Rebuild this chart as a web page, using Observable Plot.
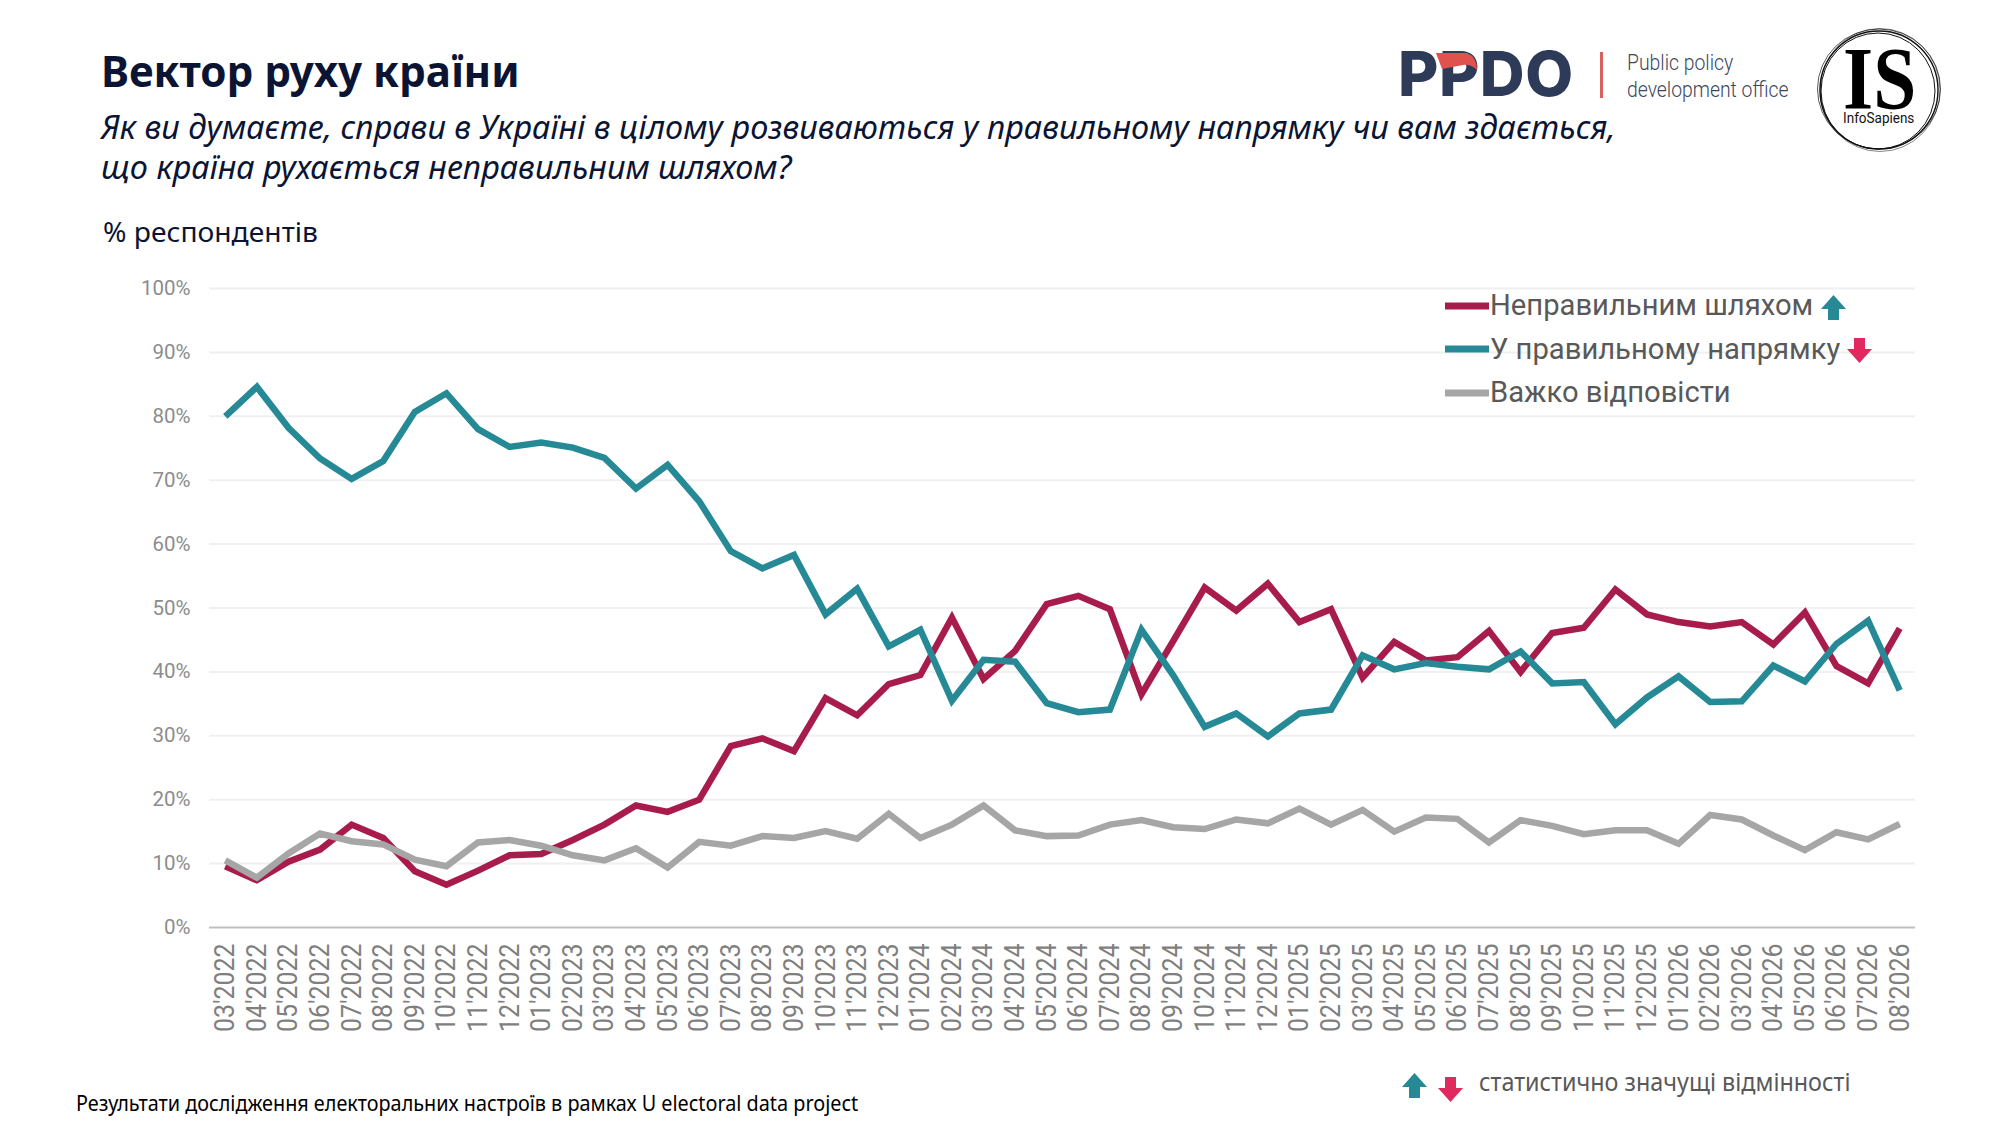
<!DOCTYPE html>
<html lang="uk">
<head>
<meta charset="utf-8">
<script src="https://cdn.jsdelivr.net/npm/d3@7"></script>
<script src="https://cdn.jsdelivr.net/npm/@observablehq/plot@0.6"></script>
<style>
  html,body{margin:0;padding:0;background:#fff;width:2000px;height:1125px;overflow:hidden}
  #page{position:relative;width:2000px;height:1125px}
  .t{position:absolute;white-space:nowrap;line-height:1}
  #chart{position:absolute;left:0;top:0}
  #chart svg{display:block;background:transparent}
  .s{position:absolute;overflow:visible}
</style>
</head>
<body>
<div id="page"><div id="chart"></div></div>
<script>
const months = [
"03'2022","04'2022","05'2022","06'2022","07'2022","08'2022","09'2022","10'2022","11'2022","12'2022",
"01'2023","02'2023","03'2023","04'2023","05'2023","06'2023","07'2023","08'2023","09'2023","10'2023","11'2023","12'2023",
"01'2024","02'2024","03'2024","04'2024","05'2024","06'2024","07'2024","08'2024","09'2024","10'2024","11'2024","12'2024",
"01'2025","02'2025","03'2025","04'2025","05'2025","06'2025","07'2025","08'2025","09'2025","10'2025","11'2025","12'2025",
"01'2026","02'2026","03'2026","04'2026","05'2026","06'2026","07'2026","08'2026"];
const wrongWay = [9.6,7.4,10.3,12.2,16.1,14.0,8.8,6.7,8.9,11.3,11.5,13.7,16.1,19.1,18.1,20.0,28.4,29.6,27.6,35.9,33.2,38.1,39.5,48.5,38.9,43.3,50.6,51.9,49.8,36.5,44.8,53.2,49.6,53.8,47.8,49.8,39.1,44.7,41.8,42.3,46.4,40.0,46.1,46.9,52.9,49.0,47.8,47.1,47.8,44.3,49.3,40.9,38.2,46.8];
const rightWay = [80.0,84.6,78.2,73.4,70.2,73.0,80.7,83.6,78.0,75.2,75.9,75.1,73.5,68.7,72.4,66.7,58.9,56.2,58.3,49.0,53.0,44.0,46.6,35.5,41.9,41.6,35.1,33.7,34.1,46.6,39.5,31.4,33.5,29.9,33.5,34.1,42.6,40.4,41.4,40.8,40.4,43.2,38.2,38.4,31.8,36.0,39.3,35.3,35.4,41.0,38.5,44.4,48.0,37.1];
const hardToSay = [10.5,7.8,11.6,14.7,13.5,13.0,10.6,9.6,13.3,13.7,12.8,11.3,10.5,12.4,9.4,13.4,12.8,14.3,14.0,15.1,13.9,17.8,14.0,16.1,19.1,15.2,14.3,14.4,16.1,16.8,15.7,15.4,16.9,16.3,18.6,16.1,18.4,15.0,17.2,17.0,13.3,16.8,15.9,14.6,15.2,15.2,13.1,17.6,16.9,14.4,12.1,14.9,13.8,16.2];
const yTicks = [0,10,20,30,40,50,60,70,80,90,100];
const gridTicks = [10,20,30,40,50,60,70,80,90,100];
const legendLabels = ["Неправильним шляхом","У правильному напрямку","Важко відповісти"];
const titleText = "Вектор руху країни";
const subtitleLines = ["Як ви думаєте, справи в Україні в цілому розвиваються у правильному напрямку чи вам здається,","що країна рухається неправильним шляхом?"];
const unitText = "% респондентів";
const sourceText = "Результати дослідження електоральних настроїв в рамках U electoral data project";
const noteText = "статистично значущі відмінності";

const RED="#A81C4C", TEAL="#268A96", GREY="#A6A6A6", PINK="#E0295F", INK="#0B1533";
const lineOpts = {x:(d,i)=>d, strokeWidth:6.5, strokeLinejoin:"miter", strokeLinecap:"butt", strokeMiterlimit:10};

const plot = Plot.plot({
  width:2000, height:1125,
  marginLeft:209, marginRight:85, marginTop:288, marginBottom:198,
  style:{fontFamily:"Roboto, sans-serif", background:"transparent", overflow:"visible"},
  x:{type:"point", domain:months, padding:0.5, label:null},
  y:{domain:[0,100], label:null},
  marks:[
    Plot.ruleY(gridTicks,{stroke:"#F0F0F0", strokeWidth:2}),
    Plot.ruleY([0],{stroke:"#BFBFBF", strokeWidth:2}),
    Plot.axisY({ticks:yTicks, tickSize:0, tickPadding:19, tickFormat:d=>d+"%", fontSize:20.5, color:"#8C8C8C", label:null}),
    Plot.axisX({tickSize:0, tickPadding:16, tickRotate:-90, fontSize:28, color:"#7F7F7F", label:null, className:"xt"}),
    Plot.line(months,{...lineOpts, y:(d,i)=>wrongWay[i], stroke:RED}),
    Plot.line(months,{...lineOpts, y:(d,i)=>rightWay[i], stroke:TEAL}),
    Plot.line(months,{...lineOpts, y:(d,i)=>hardToSay[i], stroke:GREY})
  ]
});
document.getElementById("chart").appendChild(plot);
// the reference's month labels are tall and compressed along their length
plot.querySelectorAll("text").forEach(t=>{
  if(months.includes(t.textContent.trim()) && t.getAttribute("transform"))
    t.setAttribute("transform",t.getAttribute("transform")+" scale(.89,1)");
});

const page = document.getElementById("page");
function text(s,left,cy,size,css){
  const e=document.createElement("div");e.className="t";e.textContent=s;
  e.style.cssText=`left:${left}px;top:${cy-size/2}px;font-size:${size}px;${css||""}`;
  page.appendChild(e);return e;
}
function svg(left,top,w,h,inner){
  const d=document.createElement("div");
  d.innerHTML=`<svg class="s" xmlns="http://www.w3.org/2000/svg" style="left:${left}px;top:${top}px" width="${w}" height="${h}" viewBox="0 0 ${w} ${h}">${inner}</svg>`;
  page.appendChild(d.firstChild);
}
const UP='M12.5 0 L25 14 L18 14 L18 25 L7 25 L7 14 L0 14 Z';
const DOWN='M12.5 25 L25 11 L18 11 L18 0 L7 0 L7 11 L0 11 Z';
function up(x,y){svg(x,y,25,25,`<path d="${UP}" fill="${TEAL}"/>`)}
function down(x,y){svg(x,y,25,25,`<path d="${DOWN}" fill="${PINK}"/>`)}

const head='"Noto Sans",sans-serif';
const sq=k=>`transform-origin:left center;transform:scaleX(${k});`;
text(titleText,100.5,70,43,`font-family:${head};font-weight:700;color:${INK};${sq(.98)}`);
text(subtitleLines[0],100.5,126.5,33,`font-family:${head};font-style:italic;color:${INK};${sq(.983)}`);
text(subtitleLines[1],100.5,166.5,33,`font-family:${head};font-style:italic;color:${INK};${sq(.983)}`);
text(unitText,103,231,28,`font-family:${head};color:${INK};${sq(1.008)}`);
text(sourceText,76,1102,22,`font-family:${head};color:#000;${sq(.9)}`);
text(noteText,1479,1081,25,`font-family:${head};color:#595959;${sq(.935)}`);

// legend
[[RED,306,306],[TEAL,349,350],[GREY,393,393]].forEach(([c,y,ty],i)=>{
  svg(1445,y-4,44,8,`<rect x="0" y=".5" width="44" height="7" fill="${c}"/>`);
  text(legendLabels[i],1490,ty-0.5,29.2,`font-family:Roboto,sans-serif;color:#595959`);
});
up(1821,295); down(1847,338);
up(1402,1073); down(1438,1077);

// logos
text("PPDO",1398,74,62,`font-family:Inter,Roboto,sans-serif;font-weight:800;color:#2D3B59;letter-spacing:.5px`);
svg(1435,52,50,22,`<path d="M1 1 H32 Q42 5 42 18 Q36 12 28 13 L7 17 Z" fill="#E0524D"/>`);
svg(1600,52,3,46,`<rect width="3" height="46" fill="#D9625E"/>`);
text("Public policy",1627,63,22,`font-family:Roboto,sans-serif;font-weight:300;color:#3B4660;${sq(.88)}`);
text("development office",1627,90,22,`font-family:Roboto,sans-serif;font-weight:300;color:#3B4660;${sq(.88)}`);
svg(1817,28,124,124,`<g fill="none" stroke="#111"><circle cx="62" cy="62" r="59" stroke-width="1.4"/><ellipse cx="62" cy="61" rx="61.5" ry="60" stroke-width=".7"/><ellipse cx="61" cy="63" rx="57" ry="58" stroke-width="1"/><ellipse cx="63" cy="62" rx="60" ry="61.5" stroke-width=".5"/></g>`);
text("IS",1843,79,88,`font-family:"Liberation Serif",serif;font-weight:700;color:#000;${sq(.88)}`);
text("InfoSapiens",1843,118,15,`font-family:Roboto,sans-serif;color:#111;${sq(.9)}`);
</script>
</body>
</html>
